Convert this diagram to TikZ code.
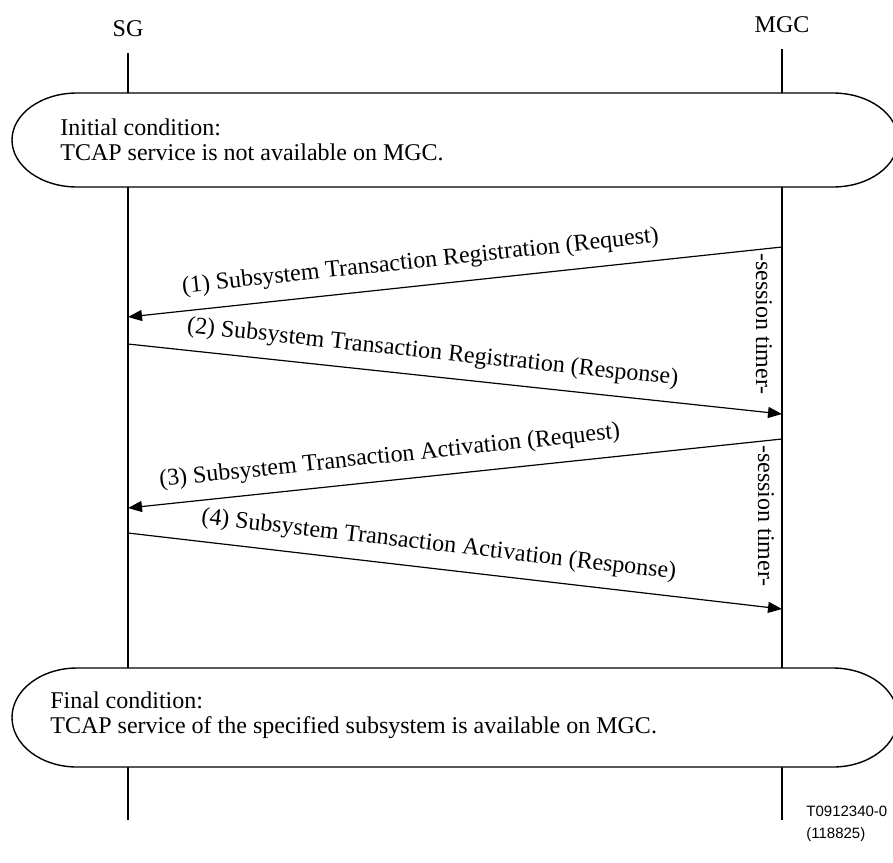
\documentclass[tikz,border=0pt]{standalone}
\usepackage{fontspec}
\setmainfont{Liberation Serif}
\setsansfont{Liberation Sans}
\usetikzlibrary{arrows.meta}
\begin{document}
\begin{tikzpicture}[x=0.5pt,y=-0.5pt,
  every node/.style={font=\fontsize{12}{12.5}\selectfont},
  lifeline/.style={line width=1.2pt},
  cond/.style={draw, line width=0.7pt, fill=white},
  condtext/.style={anchor=west, align=left, inner sep=0pt},
  msg/.style={line width=0.6pt, -{Triangle[length=7pt,width=5.5pt]}},
  lbl/.style={sloped, anchor=south, inner xsep=0pt, inner ysep=6pt},
  timer/.style={rotate=-90, inner sep=0pt},
  figref/.style={font=\sffamily\fontsize{7.5}{11}\selectfont, anchor=base west, align=left, inner sep=0pt},
]
\useasboundingbox (0,0) rectangle (893,862);

% entities
\node (sg) at (128,29) {SG};
\node (mgc) at (782,25) {MGC};

% lifelines
\coordinate (sgtop) at (128,53);
\coordinate (sgbot) at (128,820);
\coordinate (mgctop) at (782,49);
\coordinate (mgcbot) at (782,820);
\draw[lifeline] (sgtop) -- (sgbot);
\draw[lifeline] (mgctop) -- (mgcbot);

% initial condition
\draw[cond] (77,93) -- (833,93)
  arc[start angle=-90, end angle=90, x radius=65, y radius=47]
  -- (77,187)
  arc[start angle=90, end angle=270, x radius=65, y radius=47] -- cycle;
\node[condtext] (init) at (60,140) {Initial condition:\\TCAP service is not available on MGC.};

% messages
\coordinate (m1s) at (782,247);
\coordinate (m1e) at (128,317);
\coordinate (m2s) at (128,344);
\coordinate (m2e) at (782,414);
\coordinate (m3s) at (782,439);
\coordinate (m3e) at (128,508);
\coordinate (m4s) at (128,533);
\coordinate (m4e) at (782,609);

\draw[msg] (m1s) -- node[lbl, pos=0.549] (l1) {(1) Subsystem Transaction Registration (Request)} (m1e);
\draw[msg] (m2s) -- node[lbl, pos=0.462] (l2) {(2) Subsystem Transaction Registration (Response)} (m2e);
\draw[msg] (m3s) -- node[lbl, pos=0.596] (l3) {(3) Subsystem Transaction Activation (Request)} (m3e);
\draw[msg] (m4s) -- node[lbl, pos=0.471] (l4) {(4) Subsystem Transaction Activation (Response)} (m4e);

% timers
\node[timer] (t1) at (764,324) {-session timer-};
\node[timer] (t2) at (766,516) {-session timer-};

% final condition
\draw[cond] (77,668) -- (833,668)
  arc[start angle=-90, end angle=90, x radius=65, y radius=49.5]
  -- (77,767)
  arc[start angle=90, end angle=270, x radius=65, y radius=49.5] -- cycle;
\node[condtext] (final) at (50,715) {Final condition:\\TCAP service of the specified subsystem is available on MGC.};

% figure reference
\node[figref] (ref) at (806,838) {T0912340-0\\(118825)};
\end{tikzpicture}
\end{document}
